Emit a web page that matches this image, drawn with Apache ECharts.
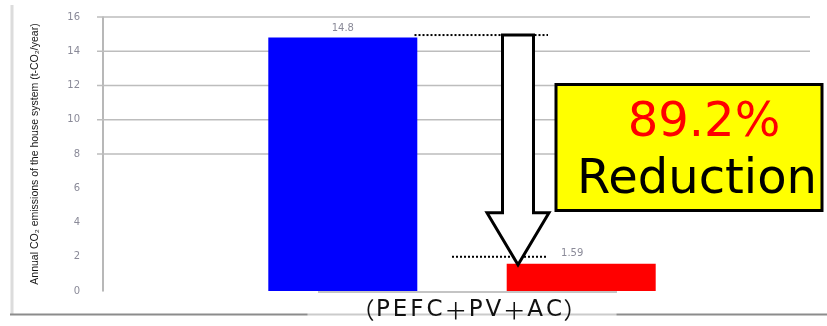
<!DOCTYPE html>
<html>
<head>
<meta charset="utf-8">
<script src="https://cdn.jsdelivr.net/npm/echarts@6/dist/echarts.min.js"></script>
<style>
  html, body { margin: 0; padding: 0; background: #ffffff; }
  #chart { width: 827px; height: 326px; }
</style>
</head>
<body>
<div id="chart"></div>
<script>
// Category and values
const categories = ['（PEFC＋PV＋AC）'];
const conventionalValues = [14.8];
const improvedValues = [1.59];
const yTicks = [0, 2, 4, 6, 8, 10, 12, 14, 16];
const gridValues = [8, 10, 12, 14, 16];
const reductionText = '89.2%';
const reductionWord = 'Reduction';
const yAxisName = 'Annual CO\u2082 emissions of the house system (t-CO\u2082/year)';

// Full-width brackets and plus signs are set in a CJK face; Latin letters are
// set one by one in a Latin face with a little tracking
function categoryRich(text) {
  return Array.from(text).map(function (ch) {
    return /[（）＋]/.test(ch) ? '{w|' + ch + '}' : '{l|' + ch + '}';
  }).join('');
}

const chart = echarts.init(document.getElementById('chart'), null, { renderer: 'canvas' });

const option = {
  animation: false,
  backgroundColor: '#ffffff',
  grid: { left: 103, right: 6, top: 17, bottom: 35 },
  xAxis: {
    type: 'category',
    data: categories,
    z: 5,
    axisLine: { show: false },
    axisTick: { show: false },
    axisLabel: {
      margin: 6,
      color: '#111111',
      formatter: categoryRich,
      backgroundColor: 'rgba(255,255,255,0.55)',
      padding: [2, 30, 2, 44],
      rich: {
        w: { fontSize: 23, color: '#111111', fontFamily: 'Noto Sans CJK JP, sans-serif' },
        l: { fontSize: 23, color: '#111111', fontFamily: 'DejaVu Sans, sans-serif', padding: [0, 1.5, 0, 1.5] }
      }
    }
  },
  yAxis: {
    type: 'value',
    min: yTicks[0],
    max: yTicks[yTicks.length - 1],
    interval: 2,
    name: yAxisName,
    nameLocation: 'middle',
    nameRotate: 90,
    nameGap: 62,
    nameTextStyle: { fontSize: 10.5, color: '#151515', fontFamily: 'Liberation Sans, sans-serif' },
    axisLine: { show: true, lineStyle: { color: '#a0a0a0', width: 1.5 } },
    axisTick: { show: false },
    splitLine: { show: false },
    axisLabel: { margin: 23, fontSize: 10, color: '#8a8a98', fontFamily: 'DejaVu Sans, sans-serif' }
  },
  series: [
    {
      // upper gridlines, extending a little left of the axis like ticks
      type: 'custom',
      z: 1,
      silent: true,
      clip: false,
      data: gridValues.map(v => [0, v]),
      renderItem: function (params, api) {
        const y = api.coord([0, api.value(1)])[1];
        const cs = params.coordSys;
        return {
          type: 'line',
          shape: { x1: cs.x - 6, y1: y, x2: cs.x + cs.width - 11, y2: y },
          style: { stroke: '#bdbdbd', lineWidth: 1.5 }
        };
      }
    },
    {
      name: 'Conventional',
      type: 'bar',
      z: 3,
      data: conventionalValues,
      barWidth: 149,
      barGap: '60%',
      itemStyle: { color: '#0000ff' },
      label: {
        show: true, position: 'top', distance: 4,
        fontSize: 10, color: '#8a8a98', fontFamily: 'DejaVu Sans, sans-serif'
      }
    },
    {
      name: 'PEFC+PV+AC',
      type: 'bar',
      z: 3,
      data: improvedValues,
      barWidth: 149,
      itemStyle: { color: '#ff0000' },
      label: {
        show: true, position: 'top', distance: 5, offset: [-9, 0],
        fontSize: 10, color: '#8a8a98', fontFamily: 'DejaVu Sans, sans-serif'
      }
    }
  ]
};

chart.setOption(option);

// Annotation: dotted guide lines, the downward arrow and the reduction box
const catX = chart.convertToPixel({ xAxisIndex: 0 }, categories[0]);
const yBlue = chart.convertToPixel({ yAxisIndex: 0 }, conventionalValues[0]);
const yRed = chart.convertToPixel({ yAxisIndex: 0 }, improvedValues[0]);
const yZero = chart.convertToPixel({ yAxisIndex: 0 }, 0);

const blueRight = catX - (149 + 89) / 2 + 149 / 2;
const arrowX = catX + 56;
const arrowTop = yBlue - 2.5;
const arrowTip = yRed + 1;
const headTop = arrowTip - 52;

chart.setOption({
  graphic: [
    // outer frame lines
    { type: 'line', z: -10, shape: { x1: 12, y1: 5, x2: 12, y2: 315 },
      style: { stroke: '#dcdcdc', lineWidth: 3 } },
    { type: 'line', z: -10, shape: { x1: 10, y1: 314.5, x2: 827, y2: 314.5 },
      style: { stroke: '#8c8c8c', lineWidth: 2 } },
    // baseline under the bars
    { type: 'line', z: 2, shape: { x1: catX - 144, y1: yZero + 1, x2: catX + 155, y2: yZero + 1 },
      style: { stroke: '#b0b0b0', lineWidth: 1.5 } },
    // dotted guides
    { type: 'line', z: 20, shape: { x1: blueRight - 3, y1: arrowTop, x2: arrowX + 30, y2: arrowTop },
      style: { stroke: '#000000', lineWidth: 2, lineDash: [2, 2] } },
    { type: 'line', z: 20, shape: { x1: arrowX - 66, y1: yRed - 7, x2: arrowX + 29, y2: yRed - 7 },
      style: { stroke: '#000000', lineWidth: 2, lineDash: [2, 2] } },
    // arrow
    { type: 'polygon', z: 21,
      shape: { points: [
        [arrowX - 15.5, arrowTop], [arrowX + 15.5, arrowTop],
        [arrowX + 15.5, headTop], [arrowX + 31, headTop],
        [arrowX, arrowTip],
        [arrowX - 31, headTop], [arrowX - 15.5, headTop]
      ] },
      style: { fill: '#ffffff', stroke: '#000000', lineWidth: 3, lineJoin: 'miter' } },
    // reduction box
    { type: 'rect', z: 22, shape: { x: 556, y: 84.5, width: 266, height: 126 },
      style: { fill: '#ffff00', stroke: '#000000', lineWidth: 3 } },
    { type: 'text', z: 23, x: 704, y: 148,
      style: { text: reductionText, fill: '#ff0000', font: '48px "DejaVu Sans", sans-serif',
               textAlign: 'center', textVerticalAlign: 'bottom' } },
    { type: 'text', z: 23, x: 697, y: 205,
      style: { text: reductionWord, fill: '#000000', font: '48px "DejaVu Sans", sans-serif',
               textAlign: 'center', textVerticalAlign: 'bottom' } }
  ]
});
</script>
</body>
</html>
